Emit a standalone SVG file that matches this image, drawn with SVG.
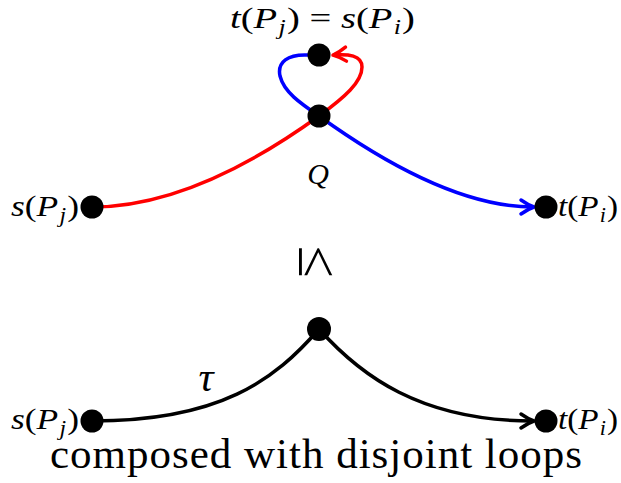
<svg xmlns="http://www.w3.org/2000/svg" width="621" height="483" viewBox="0 0 621 483">
<style>
text{font-family:"Liberation Serif","DejaVu Serif","Times New Roman",serif;fill:#000}
.i{font-style:italic}
.lab{font-size:30px}
.sub{font-size:20px}
.e{fill:none;stroke-width:3.5;stroke-linecap:round}
.nd{fill:#000}
</style>
<defs>
<marker id="arR" markerUnits="userSpaceOnUse" markerWidth="24" markerHeight="24" refX="0" refY="0" viewBox="-14 -12 24 24" orient="auto" overflow="visible">
<path d="M-12,-7 Q-5,-2 1,0 Q-5,2 -12,7" fill="none" stroke="#f00" stroke-width="3.5" stroke-linecap="round" stroke-linejoin="round"/>
</marker>
<marker id="arB" markerUnits="userSpaceOnUse" markerWidth="24" markerHeight="24" refX="0" refY="0" viewBox="-14 -12 24 24" orient="auto" overflow="visible">
<path d="M-12,-7 Q-5,-2 1,0 Q-5,2 -12,7" fill="none" stroke="#00f" stroke-width="3.5" stroke-linecap="round" stroke-linejoin="round"/>
</marker>
<marker id="arK" markerUnits="userSpaceOnUse" markerWidth="24" markerHeight="24" refX="0" refY="0" viewBox="-14 -12 24 24" orient="auto" overflow="visible">
<path d="M-12,-7 Q-5,-2 1,0 Q-5,2 -12,7" fill="none" stroke="#000" stroke-width="3.5" stroke-linecap="round" stroke-linejoin="round"/>
</marker>
</defs>

<g id="connectors">
<path class="e" stroke="#f00" d="M92,207 C180,207 265,155 319,116 C345,97 362,82 362,67 C362,55 348,54 334,55" marker-end="url(#arR)"/>
<path class="e" stroke="#00f" d="M308,55 C288,54 277,62 280,76 C284,92 300,103 319,116 C380,160 460,207 533,207" marker-end="url(#arB)"/>
<path class="e" stroke="#000" d="M92,421 C220,421 275,380 319,329 C360,375 420,421 533,421" marker-end="url(#arK)"/>
</g>

<g id="node-top">
<circle class="nd" cx="319" cy="55" r="11.5"/>
<text class="lab" x="230" y="28" textLength="185" lengthAdjust="spacingAndGlyphs"><tspan class="i">t</tspan>(<tspan class="i">P</tspan><tspan class="i sub" dx="1" dy="6">j</tspan><tspan dx="1" dy="-6">) = </tspan><tspan class="i">s</tspan>(<tspan class="i">P</tspan><tspan class="i sub" dx="1" dy="6">i</tspan><tspan dx="1" dy="-6">)</tspan></text>
</g>
<g id="node-Q">
<circle class="nd" cx="319" cy="116" r="11.5"/>
<text class="lab i" x="318" y="184" text-anchor="middle">Q</text>
</g>
<g id="node-s1">
<circle class="nd" cx="92" cy="207" r="11.5"/>
<text class="lab" x="11" y="216" textLength="68" lengthAdjust="spacingAndGlyphs"><tspan class="i">s</tspan>(<tspan class="i">P</tspan><tspan class="i sub" dx="1" dy="6">j</tspan><tspan dx="1" dy="-6">)</tspan></text>
</g>
<g id="node-t1">
<circle class="nd" cx="546" cy="207" r="11.5"/>
<text class="lab" x="558" y="216" textLength="60" lengthAdjust="spacingAndGlyphs"><tspan class="i">t</tspan>(<tspan class="i">P</tspan><tspan class="i sub" dx="1" dy="6">i</tspan><tspan dx="1" dy="-6">)</tspan></text>
</g>

<text font-size="58" transform="translate(318,262) rotate(90)" text-anchor="middle" dominant-baseline="central">≤</text>

<g id="node-mid">
<circle class="nd" cx="319" cy="329" r="12"/>
</g>
<g id="node-s2">
<circle class="nd" cx="92" cy="421" r="11.5"/>
<text class="lab" x="11" y="429" textLength="68" lengthAdjust="spacingAndGlyphs"><tspan class="i">s</tspan>(<tspan class="i">P</tspan><tspan class="i sub" dx="1" dy="6">j</tspan><tspan dx="1" dy="-6">)</tspan></text>
</g>
<g id="node-t2">
<circle class="nd" cx="546" cy="421" r="11.5"/>
<text class="lab" x="558" y="429" textLength="60" lengthAdjust="spacingAndGlyphs"><tspan class="i">t</tspan>(<tspan class="i">P</tspan><tspan class="i sub" dx="1" dy="6">i</tspan><tspan dx="1" dy="-6">)</tspan></text>
</g>
<text class="i" font-size="42" x="206" y="391" text-anchor="middle">τ</text>
<text font-size="43" x="50" y="468" textLength="532" lengthAdjust="spacing">composed with disjoint loops</text>
</svg>
